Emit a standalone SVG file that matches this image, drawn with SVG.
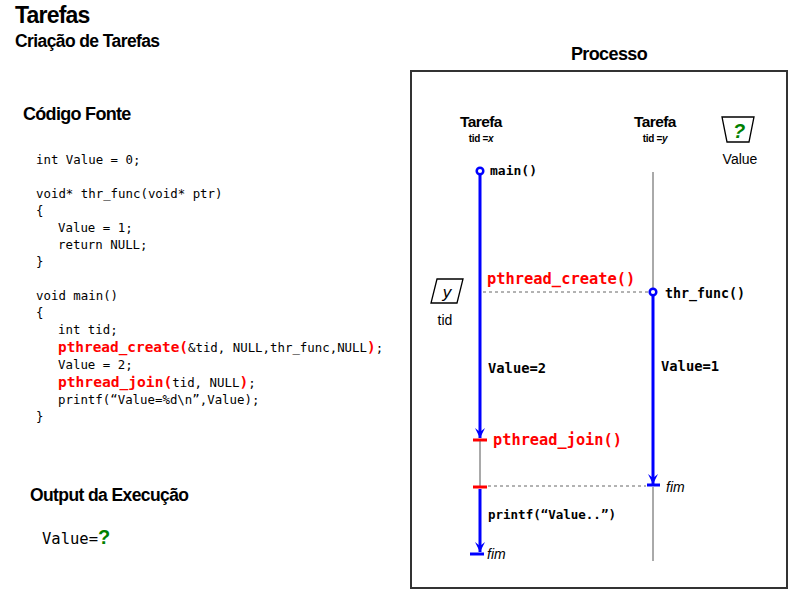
<svg xmlns="http://www.w3.org/2000/svg" width="800" height="598" viewBox="0 0 800 598">
<defs>
<style>
.h{font-family:"Liberation Sans","DejaVu Sans",sans-serif;font-weight:bold;fill:#000;}
.code{font-family:"DejaVu Sans Mono","Liberation Mono",monospace;font-size:12.4px;fill:#000;}
.kw{font-family:"DejaVu Sans Mono","Liberation Mono",monospace;font-weight:bold;fill:#ff0000;}
.lbl{font-family:"DejaVu Sans Mono","Liberation Mono",monospace;font-weight:bold;fill:#000;}
.it{font-family:"Liberation Sans","DejaVu Sans",sans-serif;font-style:italic;font-size:14px;fill:#000;}
.sans{font-family:"Liberation Sans","DejaVu Sans",sans-serif;fill:#000;}
.q{font-family:"Liberation Sans","DejaVu Sans",sans-serif;font-weight:bold;fill:#008000;}
.blue{stroke:#0000ff;stroke-width:3;fill:none;}
.thin{stroke:#555;stroke-width:1;fill:none;}
.dash{stroke:#666;stroke-width:1;stroke-dasharray:3,3;fill:none;}
.red{stroke:#ff0000;stroke-width:3;}
.btick{stroke:#0000ff;stroke-width:3;}
</style>
<marker id="arr" viewBox="0 0 12 12" refX="11" refY="6" markerWidth="12" markerHeight="12" markerUnits="userSpaceOnUse" orient="auto">
<path d="M1,1 L11,6 L1,11 L5,6 Z" fill="#0000ff"/>
</marker>
</defs>
<rect width="800" height="598" fill="#fff"/>

<g id="titles">
<text class="h" x="15" y="23" font-size="23" letter-spacing="-0.8">Tarefas</text>
<text class="h" x="15" y="47" font-size="17.5" letter-spacing="-0.6">Criação de Tarefas</text>
<text class="h" x="23" y="120" font-size="18" letter-spacing="-0.7">Código Fonte</text>
<text class="h" x="30" y="501" font-size="17.5" letter-spacing="-0.6">Output da Execução</text>
<text class="h" x="609" y="60" font-size="18" text-anchor="middle" letter-spacing="-0.6">Processo</text>
</g>

<g id="source-code">
<text class="code" x="36" y="164">int Value = 0;</text>
<text class="code" x="36" y="198">void* thr_func(void* ptr)</text>
<text class="code" x="36" y="215">{</text>
<text class="code" x="58" y="232">Value = 1;</text>
<text class="code" x="58" y="249">return NULL;</text>
<text class="code" x="36" y="266">}</text>
<text class="code" x="36" y="300">void main()</text>
<text class="code" x="36" y="317">{</text>
<text class="code" x="58" y="334">int tid;</text>
<text class="code" x="58" y="352"><tspan class="kw" font-size="14.4">pthread_create(</tspan><tspan>&amp;tid, NULL,thr_func,NULL</tspan><tspan class="kw" font-size="14.4">)</tspan><tspan>;</tspan></text>
<text class="code" x="58" y="369">Value = 2;</text>
<text class="code" x="58" y="387"><tspan class="kw" font-size="14.6">pthread_join(</tspan><tspan>tid, NULL</tspan><tspan class="kw" font-size="14.6">)</tspan><tspan>;</tspan></text>
<text class="code" x="58" y="404">printf(“Value=%d\n”,Value);</text>
<text class="code" x="36" y="421">}</text>
</g>

<g id="output">
<text class="code" x="42" y="544" style="font-size:15.5px">Value=<tspan class="q" style="font-size:20px">?</tspan></text>
</g>

<g id="process-box">
<rect x="411" y="71" width="376" height="517" fill="none" stroke="#333" stroke-width="2"/>
</g>

<g id="value-var">
<path d="M722,117 L754,117 L749,142 L727,142 Z" fill="#fff" stroke="#000" stroke-width="1.3"/>
<text class="q" x="739" y="138" font-size="20" font-style="italic" text-anchor="middle">?</text>
<text class="sans" x="740" y="164" font-size="14" text-anchor="middle">Value</text>
</g>

<g id="tid-var">
<path d="M437,279 L463,279 L457,303 L431,303 Z" fill="#fff" stroke="#000" stroke-width="1.3"/>
<text class="sans" x="447" y="298" font-size="17" font-style="italic" text-anchor="middle">y</text>
<text class="sans" x="445" y="325" font-size="14" text-anchor="middle">tid</text>
</g>

<g id="thread-main">
<text class="h" x="481" y="127" font-size="15.5" text-anchor="middle" letter-spacing="-0.6">Tarefa</text>
<text class="h" x="481" y="142" font-size="10" text-anchor="middle" letter-spacing="-0.3">tid =<tspan font-style="italic">x</tspan></text>
<text class="lbl" x="490" y="175" font-size="13">main()</text>
<text class="kw" x="487" y="284" font-size="15.4">pthread_create()</text>
<text class="lbl" x="488" y="373" font-size="13.8">Value=2</text>
<text class="kw" x="493" y="445" font-size="15.3">pthread_join()</text>
<text class="lbl" x="488" y="519" font-size="12.5">printf(“Value..”)</text>
<text class="it" x="487" y="559">fim</text>
</g>

<g id="thread-func">
<text class="h" x="655" y="127" font-size="15.5" text-anchor="middle" letter-spacing="-0.6">Tarefa</text>
<text class="h" x="655" y="142" font-size="10" text-anchor="middle" letter-spacing="-0.3">tid =<tspan font-style="italic">y</tspan></text>
<text class="lbl" x="665" y="298" font-size="13.3">thr_func()</text>
<text class="lbl" x="661" y="371" font-size="13.8">Value=1</text>
<text class="it" x="666" y="492">fim</text>
</g>

<g id="connectors">
<line class="blue" x1="480" y1="173" x2="480" y2="438" marker-end="url(#arr)"/>
<circle cx="480" cy="171" r="3.3" fill="#fff" stroke="#0000ff" stroke-width="2.5"/>
<line class="red" x1="473" y1="440" x2="487" y2="440"/>
<line class="thin" x1="480" y1="441" x2="480" y2="486"/>
<line class="red" x1="473" y1="487" x2="487" y2="487"/>
<line class="blue" x1="480" y1="489" x2="480" y2="552" marker-end="url(#arr)"/>
<line class="btick" x1="470" y1="554" x2="484" y2="554"/>
<line class="thin" x1="653" y1="172" x2="653" y2="289"/>
<line class="blue" x1="653" y1="294" x2="653" y2="484" marker-end="url(#arr)"/>
<circle cx="653" cy="292" r="3.3" fill="#fff" stroke="#0000ff" stroke-width="2.5"/>
<line class="btick" x1="647" y1="485" x2="660" y2="485"/>
<line class="thin" x1="653" y1="487" x2="653" y2="561"/>
<line class="dash" x1="483" y1="292" x2="649" y2="292"/>
<line class="dash" x1="488" y1="486" x2="646" y2="486"/>
</g>
</svg>
